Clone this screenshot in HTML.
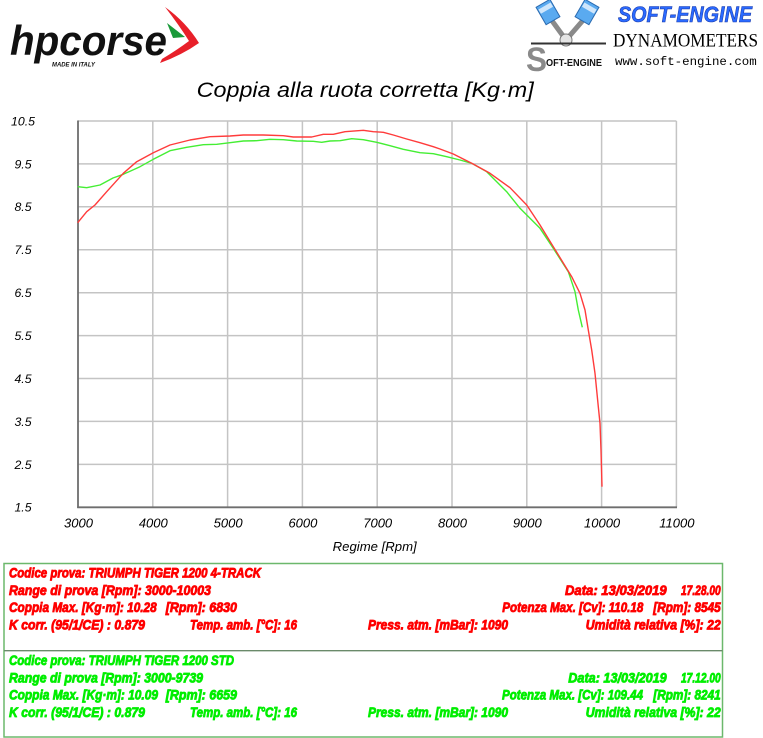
<!DOCTYPE html>
<html><head><meta charset="utf-8"><style>
html,body{margin:0;padding:0;background:#fff;}
svg{display:block;}
.it{font-family:"Liberation Sans",sans-serif;font-style:italic;fill:#000;}
.info{font-family:"Liberation Sans Narrow","Liberation Sans",sans-serif;font-style:italic;font-weight:bold;font-size:14px;stroke-width:0.85;stroke-linejoin:round;}
.r{fill:#ff0000;stroke:#ff0000;}
.g{fill:#00ee00;stroke:#00ee00;}
</style></head><body>
<svg width="763" height="738" viewBox="0 0 763 738" xmlns="http://www.w3.org/2000/svg">
<rect width="763" height="738" fill="#fff"/>

<!-- hpcorse logo -->
<text x="10" y="55" font-family="Liberation Sans, sans-serif" font-weight="bold" font-style="italic" font-size="42" textLength="157" lengthAdjust="spacingAndGlyphs" fill="#111">hpcorse</text>
<text x="52" y="66.7" font-family="Liberation Sans, sans-serif" font-weight="bold" font-style="italic" font-size="6" textLength="43" lengthAdjust="spacingAndGlyphs" fill="#111">MADE IN ITALY</text>
<path d="M165,7 Q186,22 199,43 Q182,55 160,63 L162,59 Q177,50 189,41 Q179,25 165,7 Z" fill="#e8202a"/>
<path d="M167,23 L185,37 L173,38 Z" fill="#1a9a3a"/>

<!-- soft-engine logo -->
<g>
<line x1="550" y1="18" x2="566" y2="40" stroke="#8a8a8a" stroke-width="5"/>
<line x1="585" y1="18" x2="566" y2="40" stroke="#8a8a8a" stroke-width="5"/>
<rect x="540" y="2" width="16" height="20" fill="#5aaaf0" stroke="#2a6ab0" stroke-width="1" transform="rotate(-30 548 12)"/>
<rect x="541" y="5" width="14" height="5" fill="#cfe6fb" transform="rotate(-30 548 12)"/>
<rect x="579" y="2" width="16" height="20" fill="#5aaaf0" stroke="#2a6ab0" stroke-width="1" transform="rotate(30 587 12)"/>
<rect x="580" y="5" width="14" height="5" fill="#cfe6fb" transform="rotate(30 587 12)"/>
<circle cx="566" cy="40" r="6" fill="#e4e4e4" stroke="#777" stroke-width="1"/>
<line x1="531" y1="43.5" x2="606" y2="43.5" stroke="#333" stroke-width="2"/>
<text x="526" y="71" font-family="Liberation Sans, sans-serif" font-weight="bold" font-size="34" textLength="21" lengthAdjust="spacingAndGlyphs" fill="#8a8a8a">S</text>
<text x="546" y="66" font-family="Liberation Sans Narrow, Liberation Sans, sans-serif" font-weight="bold" font-size="10" textLength="56" lengthAdjust="spacingAndGlyphs" fill="#111">OFT-ENGINE</text>
<text x="618" y="22" font-family="Liberation Sans, sans-serif" font-weight="bold" font-style="italic" font-size="22" textLength="134" lengthAdjust="spacingAndGlyphs" fill="#2a6aff" stroke="#1a3aaa" stroke-width="0.6">SOFT-ENGINE</text>
<text x="613" y="46.7" font-family="Liberation Serif, serif" font-size="19" textLength="145" lengthAdjust="spacingAndGlyphs" fill="#000">DYNAMOMETERS</text>
<text x="615" y="65" font-family="Liberation Mono, monospace" font-size="12.4" textLength="141.7" lengthAdjust="spacingAndGlyphs" fill="#000">www.soft-engine.com</text>
</g>

<!-- title -->
<text class="it" x="196.7" y="97" font-size="21" textLength="337" lengthAdjust="spacingAndGlyphs">Coppia alla ruota corretta [Kg·m]</text>

<!-- grid -->
<g stroke="#c4c4c4" stroke-width="1.5" fill="none">
<line x1="78" y1="121" x2="676.4" y2="121"/>
<line x1="78" y1="163.9" x2="676.4" y2="163.9"/>
<line x1="78" y1="206.8" x2="676.4" y2="206.8"/>
<line x1="78" y1="249.8" x2="676.4" y2="249.8"/>
<line x1="78" y1="292.7" x2="676.4" y2="292.7"/>
<line x1="78" y1="335.6" x2="676.4" y2="335.6"/>
<line x1="78" y1="378.5" x2="676.4" y2="378.5"/>
<line x1="78" y1="421.4" x2="676.4" y2="421.4"/>
<line x1="78" y1="464.4" x2="676.4" y2="464.4"/>
<line x1="152.8" y1="121" x2="152.8" y2="507.3"/>
<line x1="227.6" y1="121" x2="227.6" y2="507.3"/>
<line x1="302.4" y1="121" x2="302.4" y2="507.3"/>
<line x1="377.2" y1="121" x2="377.2" y2="507.3"/>
<line x1="452" y1="121" x2="452" y2="507.3"/>
<line x1="526.8" y1="121" x2="526.8" y2="507.3"/>
<line x1="601.6" y1="121" x2="601.6" y2="507.3"/>
<line x1="676.4" y1="121" x2="676.4" y2="507.3"/>
</g>
<g stroke="#6e6e6e" stroke-width="1.8">
<line x1="78" y1="120.5" x2="78" y2="508"/>
<line x1="77.2" y1="507.3" x2="677" y2="507.3"/>
</g>

<!-- y labels -->
<g class="it" font-size="12.3" text-anchor="middle">
<text x="23" y="125.4">10.5</text>
<text x="23" y="168.3">9.5</text>
<text x="23" y="211.2">8.5</text>
<text x="23" y="254.2">7.5</text>
<text x="23" y="297.1">6.5</text>
<text x="23" y="340">5.5</text>
<text x="23" y="382.9">4.5</text>
<text x="23" y="425.8">3.5</text>
<text x="23" y="468.8">2.5</text>
<text x="23" y="511.7">1.5</text>
</g>
<!-- x labels -->
<g class="it" font-size="13" text-anchor="middle">
<text x="78.5" y="527.3">3000</text>
<text x="153.3" y="527.3">4000</text>
<text x="228.1" y="527.3">5000</text>
<text x="302.9" y="527.3">6000</text>
<text x="377.7" y="527.3">7000</text>
<text x="452.5" y="527.3">8000</text>
<text x="527.3" y="527.3">9000</text>
<text x="602.1" y="527.3">10000</text>
<text x="676.9" y="527.3">11000</text>
</g>
<text class="it" x="332.7" y="551" font-size="13" textLength="84" lengthAdjust="spacingAndGlyphs">Regime [Rpm]</text>

<!-- curves -->
<polyline fill="none" stroke="#44ee33" stroke-width="1.4" stroke-linejoin="round" points="77.7,186.7 86.7,187.7 100,185 113,178 123.3,174.3 140,166.7 153.3,159.3 170,150.7 186.7,147.3 203.3,144.7 216.7,144.3 230,142.7 243.3,141 256.7,140.7 270,139.3 283.3,139.7 296.7,141 313.3,141.3 321.7,142.3 330,141 340,140.7 351.7,138.7 363.3,139.7 376.7,142.3 390,145.7 403.3,149.3 420,152.7 433.3,153.7 446.7,156.7 460,160 471.7,163.3 486.7,171.7 506.7,191.7 520,208.3 540,228.3 553.3,248.3 568.3,271.7 575,291.7 578.3,310 582.3,327.3"/>
<polyline fill="none" stroke="#ff3b3b" stroke-width="1.4" stroke-linejoin="round" points="77.7,222.7 86.7,211.7 95,205 106.7,191.7 123.3,173.3 136.7,161.7 153.3,152.7 170,145 190,140 210,136.7 230,136 243.3,135 263.3,135 283.3,135.7 293.3,137 311.7,137 323.3,134.3 333.3,134.3 345,131.7 363.3,130.3 373.3,131.7 383.3,132.3 393.3,135 406.7,139 420,142.7 433.3,146.7 440,149 453.3,154 471.7,163.3 490,173.3 510,187.7 526.7,205 540,225 553.3,246.7 571.7,276.7 580,293.3 585,310 588.3,330 591.7,350 595,373.3 598.3,406.7 600,423.3 601,450 602,486.7"/>

<!-- info box -->
<rect x="4" y="563.5" width="718.5" height="173.5" fill="none" stroke="#6cb86c" stroke-width="1.5"/>
<line x1="4" y1="650.7" x2="722.5" y2="650.7" stroke="#6a8a6a" stroke-width="1.3"/>

<g class="info r">
<text x="9" y="577.5" textLength="252" lengthAdjust="spacingAndGlyphs">Codice prova: TRIUMPH TIGER 1200 4-TRACK</text>
<text x="9" y="594.8" textLength="202" lengthAdjust="spacingAndGlyphs">Range di prova [Rpm]: 3000-10003</text>
<text x="9" y="612.1" textLength="147.7" lengthAdjust="spacingAndGlyphs">Coppia Max. [Kg·m]: 10.28</text>
<text x="165.7" y="612.1" textLength="71.3" lengthAdjust="spacingAndGlyphs">[Rpm]: 6830</text>
<text x="9" y="629.4" textLength="136" lengthAdjust="spacingAndGlyphs">K corr. (95/1/CE) : 0.879</text>
<text x="190" y="629.4" textLength="107" lengthAdjust="spacingAndGlyphs">Temp. amb. [°C]: 16</text>
<text x="368" y="629.4" textLength="140" lengthAdjust="spacingAndGlyphs">Press. atm. [mBar]: 1090</text>
<text x="565" y="594.8" textLength="101.7" lengthAdjust="spacingAndGlyphs">Data: 13/03/2019</text>
<text x="681" y="594.8" textLength="39.7" lengthAdjust="spacingAndGlyphs">17.28.00</text>
<text x="502.3" y="612.1" textLength="141" lengthAdjust="spacingAndGlyphs">Potenza Max. [Cv]: 110.18</text>
<text x="653.3" y="612.1" textLength="67.4" lengthAdjust="spacingAndGlyphs">[Rpm]: 8545</text>
<text x="585.7" y="629.4" textLength="135" lengthAdjust="spacingAndGlyphs">Umidità relativa [%]: 22</text>
</g>

<g class="info g">
<text x="9" y="665" textLength="225" lengthAdjust="spacingAndGlyphs">Codice prova: TRIUMPH TIGER 1200 STD</text>
<text x="9" y="682.3" textLength="194" lengthAdjust="spacingAndGlyphs">Range di prova [Rpm]: 3000-9739</text>
<text x="9" y="699.6" textLength="149" lengthAdjust="spacingAndGlyphs">Coppia Max. [Kg·m]: 10.09</text>
<text x="165.7" y="699.6" textLength="71.3" lengthAdjust="spacingAndGlyphs">[Rpm]: 6659</text>
<text x="9" y="716.9" textLength="136" lengthAdjust="spacingAndGlyphs">K corr. (95/1/CE) : 0.879</text>
<text x="190" y="716.9" textLength="107" lengthAdjust="spacingAndGlyphs">Temp. amb. [°C]: 16</text>
<text x="368" y="716.9" textLength="140" lengthAdjust="spacingAndGlyphs">Press. atm. [mBar]: 1090</text>
<text x="568.3" y="682.3" textLength="98.4" lengthAdjust="spacingAndGlyphs">Data: 13/03/2019</text>
<text x="681" y="682.3" textLength="39.7" lengthAdjust="spacingAndGlyphs">17.12.00</text>
<text x="502" y="699.6" textLength="141" lengthAdjust="spacingAndGlyphs">Potenza Max. [Cv]: 109.44</text>
<text x="653.3" y="699.6" textLength="67.4" lengthAdjust="spacingAndGlyphs">[Rpm]: 8241</text>
<text x="585.7" y="716.9" textLength="135" lengthAdjust="spacingAndGlyphs">Umidità relativa [%]: 22</text>
</g>
</svg>
</body></html>
